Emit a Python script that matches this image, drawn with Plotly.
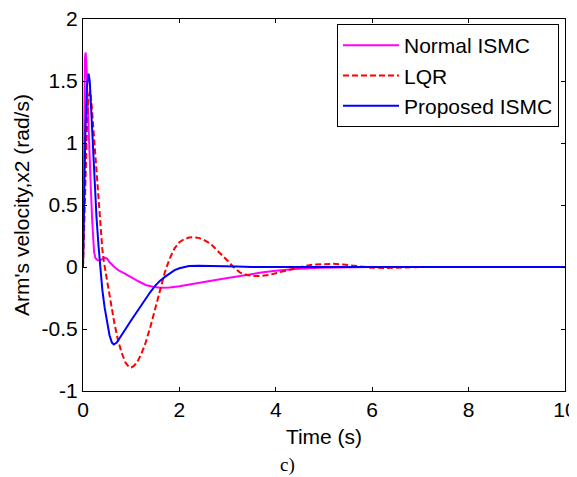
import plotly.graph_objects as go

# Normal ISMC
t_ismc = [0, 0.02, 0.04, 0.055, 0.075, 0.09, 0.11, 0.14, 0.165, 0.19, 0.21, 0.23, 0.26, 0.3,
          0.35, 0.4, 0.45, 0.5, 0.55, 0.65, 0.75, 0.85, 1.0, 1.15, 1.3, 1.45, 1.6, 1.8, 2.0,
          2.3, 2.6, 3.0, 3.4, 3.7, 4.0, 4.4, 4.9, 5.5, 6.0, 10.0]
v_ismc = [0, 1.2, 1.68, 1.73, 1.6, 1.4, 1.14, 0.85, 0.61, 0.38, 0.21, 0.12, 0.07, 0.055,
          0.052, 0.065, 0.075, 0.068, 0.04, 0.0, -0.03, -0.05, -0.085, -0.115, -0.145, -0.16,
          -0.168, -0.165, -0.155, -0.138, -0.115, -0.088, -0.06, -0.045, -0.03, -0.016,
          -0.006, -0.002, 0.0, 0.0]

# LQR
t_lqr = [0, 0.03, 0.06, 0.09, 0.12, 0.15, 0.18, 0.21, 0.25, 0.3, 0.35, 0.4, 0.43, 0.47, 0.52,
         0.57, 0.65, 0.72, 0.8, 0.88, 0.95, 1.0, 1.05, 1.12, 1.2, 1.3, 1.4, 1.5, 1.6, 1.7,
         1.8, 1.9, 2.0, 2.1, 2.2, 2.3, 2.4, 2.5, 2.64, 2.8, 3.0, 3.12, 3.26, 3.4, 3.55, 3.7,
         3.85, 4.0, 4.2, 4.4, 4.6, 4.8, 5.0, 5.2, 5.4, 5.6, 5.8, 6.0, 6.3, 6.6, 7.0, 10.0]
v_lqr = [0, 0.45, 0.9, 1.22, 1.38, 1.42, 1.3, 1.14, 0.9, 0.62, 0.38, 0.15, 0.05, -0.05, -0.15,
         -0.27, -0.45, -0.58, -0.69, -0.77, -0.805, -0.81, -0.8, -0.77, -0.71, -0.61, -0.48,
         -0.33, -0.17, -0.04, 0.07, 0.15, 0.2, 0.225, 0.237, 0.24, 0.235, 0.22, 0.19, 0.13,
         0.05, 0.0, -0.045, -0.065, -0.073, -0.072, -0.065, -0.05, -0.03, -0.01, 0.008, 0.02,
         0.026, 0.026, 0.02, 0.01, 0.0, -0.006, -0.008, -0.005, 0.0, 0.0]

# Proposed ISMC
t_prop = [0, 0.02, 0.05, 0.08, 0.115, 0.14, 0.17, 0.2, 0.24, 0.28, 0.32, 0.36, 0.4, 0.45,
          0.5, 0.55, 0.6, 0.64, 0.7, 0.8, 0.9, 1.0, 1.1, 1.2, 1.3, 1.4, 1.5, 1.6, 1.7, 1.8,
          1.9, 2.0, 2.1, 2.2, 2.4, 3.0, 3.2, 3.5, 10.0]
v_prop = [0, 0.5, 1.1, 1.45, 1.56, 1.5, 1.25, 0.98, 0.68, 0.4, 0.18, 0.0, -0.18, -0.33,
          -0.45, -0.55, -0.61, -0.625, -0.61, -0.555, -0.49, -0.43, -0.37, -0.31, -0.255,
          -0.2, -0.15, -0.11, -0.08, -0.05, -0.025, -0.01, 0.0, 0.008, 0.01, 0.01, 0.005,
          0.0, 0.0]

x_ticks = [0, 2, 4, 6, 8, 10]
y_ticks = [-1, -0.5, 0, 0.5, 1, 1.5, 2]
y_tick_text = ["-1", "-0.5", "0", "0.5", "1", "1.5", "2"]

font_main = "Liberation Sans, Arial, sans-serif"
FS = 21

# The page body has an 8 px margin, so the figure is drawn 8 px smaller and offset.
OFF = 8
W, H = 577 - OFF, 477 - OFF
ML, MR, MT, MB = 83 - OFF, 12, 19 - OFF, 86

fig = go.Figure()
fig.add_trace(go.Scatter(x=t_ismc, y=v_ismc, mode="lines", name="Normal ISMC",
                         line=dict(color="#FF00FF", width=2)))
fig.add_trace(go.Scatter(x=t_lqr, y=v_lqr, mode="lines", name="LQR",
                         line=dict(color="#FF0000", width=2, dash="6px,3px")))
fig.add_trace(go.Scatter(x=t_prop, y=v_prop, mode="lines", name="Proposed ISMC",
                         line=dict(color="#0000FF", width=2)))

axis_common = dict(showgrid=False, zeroline=False, showline=True, linecolor="black",
                   linewidth=1, mirror="ticks", ticks="inside", ticklen=4,
                   tickcolor="black", automargin=False, ticklabeloverflow="allow",
                   tickfont=dict(family=font_main, size=FS, color="black"))

fig.update_xaxes(range=[0, 10], tickvals=x_ticks, ticktext=[str(v) for v in x_ticks],
                 title=dict(text="Time (s)", font=dict(family=font_main, size=FS, color="black"),
                            standoff=9),
                 **axis_common)
fig.update_yaxes(range=[-1, 2], tickvals=y_ticks, ticktext=y_tick_text,
                 title=dict(text="Arm's velocity,x2 (rad/s)",
                            font=dict(family=font_main, size=FS, color="black"), standoff=6),
                 **axis_common)

plot_w = W - ML - MR
plot_h = H - MT - MB

fig.update_layout(
    width=W, height=H,
    margin=dict(l=ML, r=MR, t=MT, b=MB, autoexpand=False),
    paper_bgcolor="white", plot_bgcolor="white",
    legend=dict(x=(559 - OFF - ML) / plot_w, y=(H - MB - (24 - OFF)) / plot_h,
                xanchor="right", yanchor="top",
                bordercolor="black", borderwidth=1, bgcolor="white",
                font=dict(family=font_main, size=FS, color="black"),
                itemwidth=56),
    annotations=[dict(text="c)", x=(287 - OFF - ML) / plot_w, y=(H - MB - (465 - OFF)) / plot_h,
                      xref="paper", yref="paper", yanchor="middle", xanchor="center",
                      showarrow=False,
                      font=dict(family="Liberation Serif, Times New Roman, serif",
                                size=19, color="black"))],
    showlegend=True,
)

fig.write_html("out.html")
